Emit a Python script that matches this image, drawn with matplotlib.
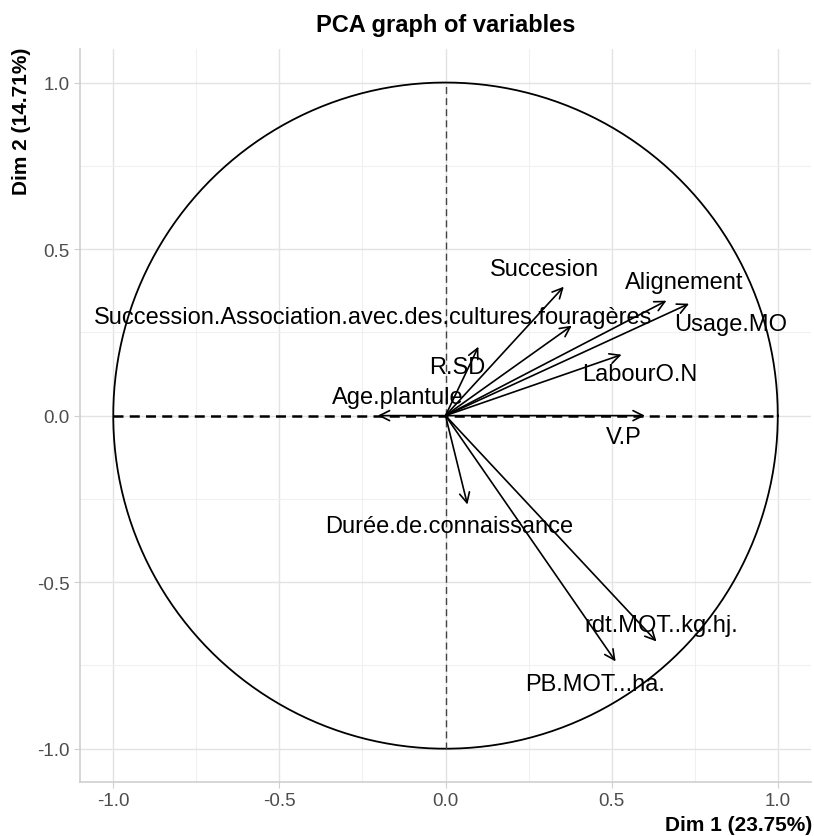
import numpy as np
import matplotlib.pyplot as plt

# variable coordinates on Dim 1 / Dim 2
variables = ['Succesion', 'Alignement', 'Usage.MO',
             'Succession.Association.avec.des.cultures.fouragères',
             'R.SD', 'LabourO.N', 'V.P', 'Age.plantule',
             'Durée.de.connaissance', 'rdt.MOT..kg.hj.', 'PB.MOT...ha.']
dim1 = [0.356, 0.665, 0.733, 0.380, 0.099, 0.530, 0.600, -0.204, 0.066, 0.635, 0.512]
dim2 = [0.387, 0.345, 0.336, 0.270, 0.207, 0.183, 0.000, 0.000, -0.267, -0.678, -0.738]
# label positions (as drawn, repelled)
lab_x = [0.299, 0.719, 0.859, -0.219, 0.036, 0.584, 0.536, -0.144, 0.012, 0.650, 0.449]
lab_y = [0.441, 0.402, 0.276, 0.297, 0.147, 0.126, -0.063, 0.057, -0.330, -0.630, -0.807]

plt.rcParams['font.family'] = ['Liberation Sans', 'DejaVu Sans']

fig = plt.figure(figsize=(8.14, 8.37), dpi=100)
ax = fig.add_axes([0.0983, 0.0645, 0.898, 0.8755])

ax.set_xlim(-1.1, 1.1)
ax.set_ylim(-1.1, 1.1)

ax.set_xticks([-1, -0.5, 0, 0.5, 1])
ax.set_yticks([-1, -0.5, 0, 0.5, 1])
ax.set_xticks([-0.75, -0.25, 0.25, 0.75], minor=True)
ax.set_yticks([-0.75, -0.25, 0.25, 0.75], minor=True)
ax.grid(True, which='major', color='#e3e3e3', lw=1.0)
ax.grid(True, which='minor', color='#f0f0f0', lw=0.8)
ax.set_axisbelow(True)

for s in ['top', 'right']:
    ax.spines[s].set_visible(False)
for s in ['left', 'bottom']:
    ax.spines[s].set_color('#cfcfcf')
    ax.spines[s].set_linewidth(1.2)
ax.tick_params(which='major', colors='#cfcfcf', length=4, labelcolor='#4d4d4d', labelsize=13.5)
ax.tick_params(which='minor', length=0)
ax.xaxis.set_major_formatter(plt.FuncFormatter(lambda v, p: f'{v:.1f}'))
ax.yaxis.set_major_formatter(plt.FuncFormatter(lambda v, p: f'{v:.1f}'))

# circle
t = np.linspace(0, 2 * np.pi, 400)
ax.plot(np.cos(t), np.sin(t), color='black', lw=1.3)

# reference lines
ax.plot([-1, 1], [0, 0], color='black', lw=1.8, ls=(0, (4, 2.5)))
ax.plot([0, 0], [-1, 1], color='#444444', lw=1.0, ls=(0, (5, 3)))

for name, x, y, lx, ly in zip(variables, dim1, dim2, lab_x, lab_y):
    ax.annotate('', xy=(x, y), xytext=(0, 0),
                arrowprops=dict(arrowstyle='->', color='black', lw=1.2,
                                mutation_scale=18, shrinkA=0, shrinkB=0))
    ax.text(lx, ly, name, ha='center', va='center', fontsize=17, color='black')

fig.text(0.548, 0.970, 'PCA graph of variables', ha='center', va='center',
         fontsize=17, fontweight='bold')
fig.text(0.998, 0.014, 'Dim 1 (23.75%)', ha='right', va='center',
         fontsize=15, fontweight='bold')
fig.text(0.027, 0.943, 'Dim 2 (14.71%)', ha='center', va='top', rotation=90,
         fontsize=15, fontweight='bold')

fig.savefig('out.png', dpi=100)
